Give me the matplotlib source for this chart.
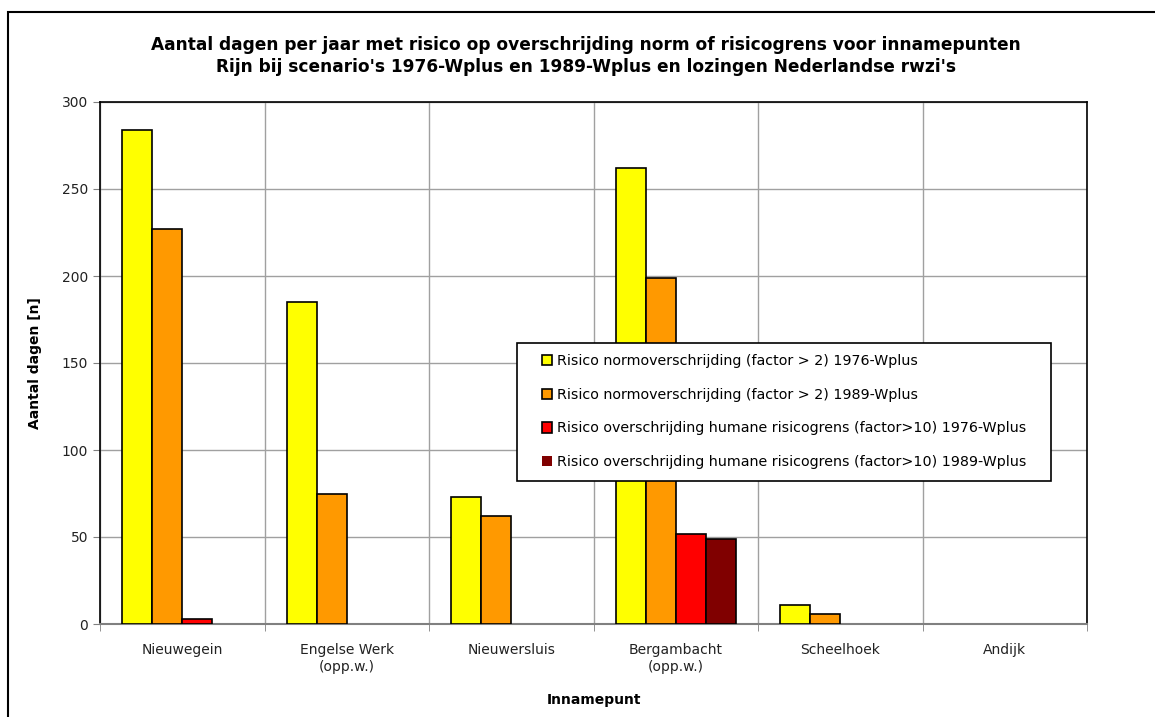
import numpy as np
import matplotlib
matplotlib.use('Agg')
import matplotlib.pyplot as plt
from matplotlib.patches import Rectangle
from matplotlib.legend_handler import HandlerPatch

# Data
locations = ['Nieuwegein', 'Engelse Werk\n(opp.w.)', 'Nieuwersluis',
             'Bergambacht\n(opp.w.)', 'Scheelhoek', 'Andijk']
norm_1976 = [284, 185, 73, 262, 11, 0]
norm_1989 = [227, 75, 62, 199, 6, 0]
humaan_1976 = [3, 0, 0, 52, 0, 0]
humaan_1989 = [0, 0, 0, 49, 0, 0]

series_labels = [
    'Risico normoverschrijding (factor > 2) 1976-Wplus',
    'Risico normoverschrijding (factor > 2) 1989-Wplus',
    'Risico overschrijding humane risicogrens (factor>10) 1976-Wplus',
    'Risico overschrijding humane risicogrens (factor>10) 1989-Wplus',
]
colors = ['#FFFF00', '#FF9900', '#FF0000', '#800000']

plt.rcParams['font.family'] = ['DejaVu Sans']

W, H = 1155, 717
fig = plt.figure(figsize=(W / 100, H / 100), dpi=100)
# plot area in pixels: x 100..1087, y 102..624
ax = fig.add_axes([100 / W, 1 - 624 / H, 987 / W, 522 / H])


def ax_xy(px, py):
    # pixel position -> axes fraction
    return (px - 100) / 987, (624 - py) / 522


# Outer chart border (right and bottom edges run off the picture)
fig.patches.append(Rectangle((8 / W, -0.05), 1.0, 1 - 12 / H + 0.05,
                             transform=fig.transFigure, fill=False,
                             edgecolor='black', linewidth=1.5))

x = np.arange(len(locations))
w = 30 / 164.5
all_series = [norm_1976, norm_1989, humaan_1976, humaan_1989]
for i, (vals, col, lab) in enumerate(zip(all_series, colors, series_labels)):
    edges = ['black' if v > 0 else 'none' for v in vals]
    ax.bar(x + (i - 1.5) * w, vals, width=w, color=col, edgecolor=edges,
           linewidth=1.2, label=lab, zorder=3)

ax.set_xlim(-0.5, len(locations) - 0.5)
ax.set_ylim(0, 300)
ax.set_yticks(range(0, 301, 50))
ax.set_xticks(x)
ax.set_xticklabels(locations, fontsize=10, color='#222222')
ax.tick_params(axis='x', which='major', length=0, pad=14)
ax.set_xticks(np.arange(-0.5, len(locations), 1), minor=True)
ax.tick_params(axis='x', which='minor', length=5, color='#808080')
ax.tick_params(axis='y', length=5, labelsize=10, color='#808080', labelcolor='#222222')

ax.grid(which='minor', axis='x', color='#a0a0a0', linewidth=1, zorder=0)
ax.grid(which='major', axis='y', color='#a0a0a0', linewidth=1, zorder=0)
ax.set_axisbelow(True)

for s in ['top', 'right', 'left']:
    ax.spines[s].set_color('black')
    ax.spines[s].set_linewidth(1.2)
ax.spines['bottom'].set_color('#808080')
ax.spines['bottom'].set_linewidth(1.5)

ax.set_ylabel('Aantal dagen [n]', fontsize=10, fontweight='bold')
ax.yaxis.set_label_coords(ax_xy(42, 0)[0], 0.5)
ax.set_xlabel('Innamepunt', fontsize=10, fontweight='bold')
ax.xaxis.set_label_coords(0.5, ax_xy(0, 693)[1])

fig.text(585.5 / W, 1 - 56 / H,
         "Aantal dagen per jaar met risico op overschrijding norm of risicogrens voor innamepunten\n"
         "Rijn bij scenario's 1976-Wplus en 1989-Wplus en lozingen Nederlandse rwzi's",
         ha='center', va='center', fontsize=12.25, fontweight='bold', linespacing=1.3)

# Legend box drawn by hand so its padding matches the reference
lx0, ly0 = ax_xy(517, 481)
lx1, ly1 = ax_xy(1051, 343)
ax.add_patch(Rectangle((lx0, ly0), lx1 - lx0, ly1 - ly0, transform=ax.transAxes,
                       facecolor='white', edgecolor='black', linewidth=1.2,
                       zorder=4, clip_on=False))


def square(legend, orig_handle, xdescent, ydescent, width, height, fontsize):
    s = height
    return Rectangle((-xdescent + width - s, -ydescent), s, s)


ax_leg_x, ax_leg_y = ax_xy(542, 354)
leg = ax.legend(loc='upper left', bbox_to_anchor=(ax_leg_x, ax_leg_y),
                borderaxespad=0, borderpad=0, fontsize=10.3,
                handlelength=0.72, handleheight=0.72, handletextpad=0.3,
                labelspacing=1.38, frameon=False,
                handler_map={Rectangle: HandlerPatch(patch_func=square)})
for h in leg.legend_handles:
    h.set_linewidth(1.2)
leg.set_zorder(5)

fig.savefig('out.png', dpi=100)
